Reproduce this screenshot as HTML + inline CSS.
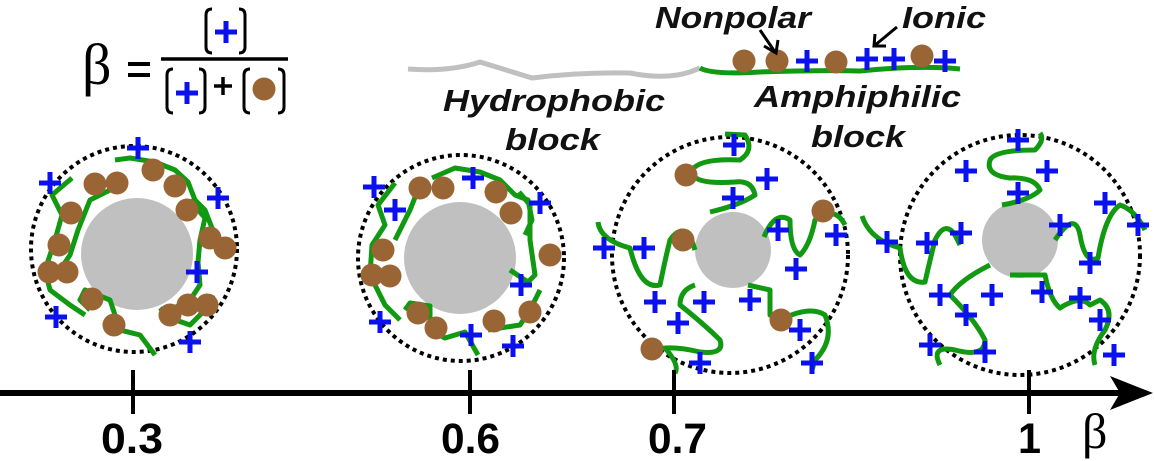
<!DOCTYPE html>
<html><head><meta charset="utf-8"><style>
html,body{margin:0;padding:0;background:#fff;}
svg{display:block;}
.t{font-family:"Liberation Sans",sans-serif;font-weight:bold;font-style:italic;font-size:31px;fill:#111;}
.n{font-family:"Liberation Sans",sans-serif;font-weight:bold;font-size:43px;fill:#000;}
</style></head><body>
<svg width="1154" height="461" viewBox="0 0 1154 461" xmlns="http://www.w3.org/2000/svg">
<defs>
<g id="p"><path d="M-11 0H11M0 -11V11" stroke="#0a10ee" stroke-width="5"/></g>
<g id="b"><circle r="11.5" fill="#9a6535"/></g>
</defs>

<!-- formula -->
<text x="82" y="84" font-family="Liberation Serif,serif" font-size="58" fill="#000">β</text>
<path d="M128 64H150M128 75H150" stroke="#000" stroke-width="4"/>
<line x1="161" y1="59" x2="288" y2="59" stroke="#000" stroke-width="3.5"/>
<g fill="none" stroke="#000" stroke-width="3">
<path d="M212 9q-6 0-6 6v32q0 6 6 6M239 9q6 0 6 6v32q0 6-6 6"/>
<path d="M173 69q-6 0-6 6v32q0 6 6 6M199 69q6 0 6 6v32q0 6-6 6"/>
<path d="M250 69q-6 0-6 6v32q0 6 6 6M278 69q6 0 6 6v32q0 6-6 6"/>
</g>
<use href="#p" x="226" y="32"/>
<use href="#p" x="187" y="93"/>
<path d="M214 86H232M223 77V95" stroke="#000" stroke-width="3.5"/>
<use href="#b" x="264" y="89"/>

<!-- polymer -->
<path d="M408 69 Q450 72 480 62 L532 78 Q580 72 630 73 Q665 80 690 72 L700 68" stroke="#c0c0c0" stroke-width="5" fill="none"/>
<path d="M700 68 Q712 75 760 72 Q820 70 860 71 Q920 65 960 69" stroke="#119911" stroke-width="5" fill="none"/>
<use href="#b" x="744" y="61"/><use href="#b" x="777" y="61"/><use href="#b" x="836" y="62"/><use href="#b" x="922" y="56"/>
<use href="#p" x="807" y="61"/><use href="#p" x="867" y="59"/><use href="#p" x="894" y="59"/><use href="#p" x="945" y="61"/>
<text class="t" x="655" y="28" textLength="156" lengthAdjust="spacingAndGlyphs">Nonpolar</text>
<text class="t" x="902" y="28" textLength="84" lengthAdjust="spacingAndGlyphs">Ionic</text>
<path d="M760 30 L775 52 M764 46 L776 53 L778 40" stroke="#000" stroke-width="3" fill="none"/>
<path d="M897 27 L874 46 M875 34 L874 46 L886 46" stroke="#000" stroke-width="3" fill="none"/>
<text class="t" x="443" y="111" textLength="222" lengthAdjust="spacingAndGlyphs">Hydrophobic</text>
<text class="t" x="505" y="150" textLength="95" lengthAdjust="spacingAndGlyphs">block</text>
<text class="t" x="754" y="107" textLength="207" lengthAdjust="spacingAndGlyphs">Amphiphilic</text>
<text class="t" x="811" y="147" textLength="94" lengthAdjust="spacingAndGlyphs">block</text>

<!-- circle 1 -->
<circle cx="134" cy="249" r="103" fill="none" stroke="#000" stroke-width="4" stroke-dasharray="4 4"/>
<circle cx="137" cy="254" r="56" fill="#c0c0c0"/>
<g stroke="#119911" stroke-width="5" fill="none" stroke-linejoin="round">
<path d="M72 178 L52 195 L62 215 L55 240 L45 270 L50 290 L70 305 L85 315"/>
<path d="M115 160 L130 158 L155 162 L175 170 L188 182 L195 200 L205 210 L212 228 L220 240"/>
<path d="M118 180 L110 190 L90 200 L78 230 L70 255 L60 270"/>
<path d="M190 200 L205 218 L200 240 L198 262 L200 285 L190 300 L170 310 L165 318"/>
<path d="M90 310 L80 300 L85 290 L110 300 L120 330 L140 335 L155 355"/>
<path d="M160 308 L170 318 L190 325 L205 310 L213 295"/>
</g>
<use href="#b" x="95" y="184"/><use href="#b" x="117" y="183"/><use href="#b" x="153" y="170"/><use href="#b" x="175" y="186"/>
<use href="#b" x="71" y="213"/><use href="#b" x="187" y="210"/><use href="#b" x="59" y="245"/><use href="#b" x="210" y="238"/>
<use href="#b" x="49" y="272"/><use href="#b" x="67" y="272"/><use href="#b" x="225" y="248"/><use href="#b" x="92" y="299"/>
<use href="#b" x="114" y="325"/><use href="#b" x="170" y="315"/><use href="#b" x="188" y="305"/><use href="#b" x="207" y="305"/>
<use href="#p" x="138" y="148"/><use href="#p" x="50" y="183"/><use href="#p" x="218" y="198"/><use href="#p" x="197" y="272"/>
<use href="#p" x="56" y="317"/><use href="#p" x="190" y="342"/>

<!-- circle 2 -->
<circle cx="461" cy="258" r="103" fill="none" stroke="#000" stroke-width="4" stroke-dasharray="4 4"/>
<circle cx="460" cy="258" r="56" fill="#c0c0c0"/>
<g stroke="#119911" stroke-width="5" fill="none" stroke-linejoin="round">
<path d="M395 183 L378 205 L385 225 L372 245 L370 275 L385 305 L400 320"/>
<path d="M432 178 L455 168 L480 172 L500 180 L515 195 L528 200 L532 220 L525 235"/>
<path d="M420 185 L410 210 L395 240"/>
<path d="M519 192 L530 205 L530 240 L535 275 L528 282 L510 270"/>
<path d="M405 310 L410 303 L430 306 L430 330 L445 338 L465 332 L478 355"/>
<path d="M488 330 L500 328 L520 325 L530 310 L540 290"/>
</g>
<use href="#b" x="420" y="188"/><use href="#b" x="443" y="188"/><use href="#b" x="496" y="192"/><use href="#b" x="511" y="213"/>
<use href="#b" x="383" y="250"/><use href="#b" x="372" y="275"/><use href="#b" x="390" y="276"/><use href="#b" x="550" y="255"/>
<use href="#b" x="418" y="313"/><use href="#b" x="436" y="328"/><use href="#b" x="494" y="321"/><use href="#b" x="530" y="312"/>
<use href="#p" x="374" y="187"/><use href="#p" x="395" y="210"/><use href="#p" x="473" y="178"/><use href="#p" x="540" y="203"/>
<use href="#p" x="521" y="285"/><use href="#p" x="380" y="322"/><use href="#p" x="471" y="335"/><use href="#p" x="513" y="346"/>

<!-- circle 3 -->
<circle cx="730" cy="255" r="118" fill="none" stroke="#000" stroke-width="4" stroke-dasharray="4 4"/>
<circle cx="733" cy="250" r="38" fill="#c0c0c0"/>
<g stroke="#119911" stroke-width="5" fill="none" stroke-linejoin="round">
<path d="M710 212 Q740 205 755 195 Q752 180 735 182 Q690 185 692 170 Q700 158 740 160 Q755 150 745 135 L725 134"/>
<path d="M598 222 Q600 240 630 248 Q640 290 660 285 Q665 260 670 240 Q680 225 690 235 L695 250"/>
<path d="M695 285 Q680 290 680 305 Q705 325 720 340 Q725 355 700 352 Q670 345 655 350"/>
<path d="M748 285 L770 290 Q770 310 770 315 L780 320 Q810 305 825 315 Q835 340 815 360 L812 370"/>
<path d="M764 237 Q775 210 790 220 Q790 250 800 255 Q810 245 815 220 Q835 205 845 225"/>
<path d="M665 348 Q680 365 675 373"/>
</g>
<use href="#b" x="686" y="175"/><use href="#b" x="683" y="240"/><use href="#b" x="823" y="211"/><use href="#b" x="781" y="320"/><use href="#b" x="652" y="349"/>
<use href="#p" x="734" y="145"/><use href="#p" x="767" y="179"/><use href="#p" x="733" y="198"/><use href="#p" x="604" y="248"/>
<use href="#p" x="644" y="248"/><use href="#p" x="778" y="230"/><use href="#p" x="836" y="235"/><use href="#p" x="796" y="269"/>
<use href="#p" x="655" y="302"/><use href="#p" x="704" y="302"/><use href="#p" x="750" y="300"/><use href="#p" x="678" y="323"/>
<use href="#p" x="800" y="330"/><use href="#p" x="700" y="363"/><use href="#p" x="812" y="363"/>

<!-- circle 4 -->
<circle cx="1020" cy="255" r="120" fill="none" stroke="#000" stroke-width="4" stroke-dasharray="4 4"/>
<circle cx="1020" cy="240" r="38" fill="#c0c0c0"/>
<g stroke="#119911" stroke-width="5" fill="none" stroke-linejoin="round">
<path d="M1002 205 Q1030 200 1040 190 Q1035 177 1010 178 Q985 175 990 160 Q995 150 1035 150 Q1045 140 1040 133"/>
<path d="M862 216 Q870 240 900 248 Q905 285 925 282 Q930 260 935 240 Q945 220 955 235 L960 245"/>
<path d="M990 265 Q960 280 950 295 Q975 320 985 340 Q985 358 955 350 Q930 345 940 365"/>
<path d="M1010 275 L1045 275 Q1050 300 1060 308 Q1080 295 1090 305 L1100 300 Q1115 310 1105 330 Q1090 350 1095 365"/>
<path d="M1055 240 Q1075 210 1080 235 Q1085 265 1098 258 Q1105 215 1120 205 Q1135 210 1145 230"/>
</g>
<use href="#p" x="1018" y="140"/><use href="#p" x="966" y="171"/><use href="#p" x="1047" y="171"/><use href="#p" x="1018" y="193"/>
<use href="#p" x="1105" y="203"/><use href="#p" x="887" y="242"/><use href="#p" x="927" y="243"/><use href="#p" x="961" y="233"/>
<use href="#p" x="1060" y="225"/><use href="#p" x="1138" y="225"/><use href="#p" x="1090" y="263"/><use href="#p" x="940" y="295"/>
<use href="#p" x="992" y="295"/><use href="#p" x="1042" y="292"/><use href="#p" x="1080" y="298"/><use href="#p" x="966" y="315"/>
<use href="#p" x="1100" y="320"/><use href="#p" x="930" y="345"/><use href="#p" x="985" y="352"/><use href="#p" x="1114" y="355"/>

<!-- axis -->
<line x1="0" y1="393" x2="1125" y2="393" stroke="#000" stroke-width="6"/>
<path d="M1110 376 L1153 393 L1110 410 L1120 393 Z" fill="#000"/>
<g stroke="#000" stroke-width="4">
<line x1="133" y1="370" x2="133" y2="414"/><line x1="470" y1="370" x2="470" y2="414"/>
<line x1="674" y1="370" x2="674" y2="414"/><line x1="1029" y1="370" x2="1029" y2="414"/>
</g>
<text class="n" x="101" y="453" textLength="62" lengthAdjust="spacingAndGlyphs">0.3</text>
<text class="n" x="441" y="453" textLength="59" lengthAdjust="spacingAndGlyphs">0.6</text>
<text class="n" x="648" y="453" textLength="59" lengthAdjust="spacingAndGlyphs">0.7</text>
<text class="n" x="1018" y="453" textLength="23" lengthAdjust="spacingAndGlyphs">1</text>
<text x="1082" y="448" font-family="Liberation Serif,serif" font-size="50" fill="#000">β</text>
</svg>
</body></html>
